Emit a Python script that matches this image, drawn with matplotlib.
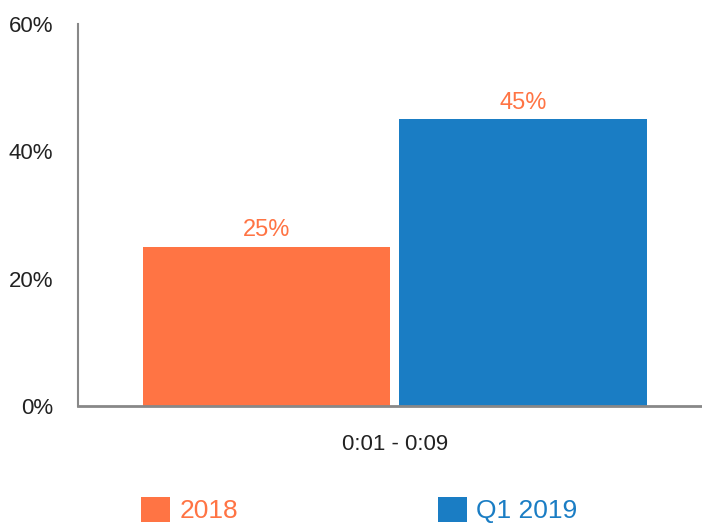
import matplotlib.pyplot as plt

plt.rcParams['font.family'] = ['Liberation Sans', 'DejaVu Sans']

# data
series = ["2018", "Q1 2019"]
values = [25, 45]
category = "0:01 - 0:09"
colors = ["#FF7444", "#1A7DC4"]
label_color = "#FF7444"

fig = plt.figure(figsize=(7.02, 5.27), dpi=100)
ax = fig.add_axes([0.111, 0.2296, 0.889, 0.7249])

offsets = [-0.5, 0.5]
bars = []
for off, val, col, name in zip(offsets, values, colors, series):
    b = ax.bar(off, val, width=0.965, color=col, label=name)
    bars.append(b)
    ax.bar_label(b, labels=[f"{val}%"], padding=4, fontsize=17, color=label_color)

ax.set_xlim(-1.235, 1.198)
ax.set_ylim(0, 60)
ax.set_yticks([0, 20, 40, 60])
ax.set_yticklabels([f"{v}%" for v in [0, 20, 40, 60]])
ax.set_xticks([0])
ax.set_xticklabels([category])
ax.tick_params(axis='y', length=0, pad=18, labelsize=16, labelcolor="#222222")
ax.tick_params(axis='x', length=0, pad=20, labelsize=16, labelcolor="#222222")

for s in ['top', 'right']:
    ax.spines[s].set_visible(False)
ax.spines['left'].set_color("#888888")
ax.spines['left'].set_linewidth(1.5)
ax.spines['bottom'].set_color("#888888")
ax.spines['bottom'].set_linewidth(2)

leg = ax.legend(loc='center', bbox_to_anchor=(0.512, 0.032), bbox_transform=fig.transFigure,
                ncol=2, frameon=False, fontsize=19, handlelength=1.08, handleheight=1.08,
                handletextpad=0.35, columnspacing=7.6, borderpad=0, borderaxespad=0)
for txt, col in zip(leg.get_texts(), colors):
    txt.set_color(col)

fig.savefig("out.png", dpi=100)
